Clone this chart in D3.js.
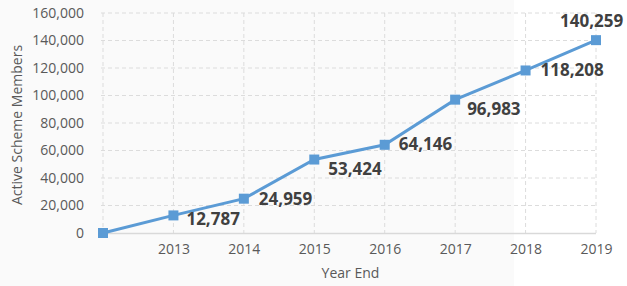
<!DOCTYPE html>
<html>
<head>
<meta charset="utf-8">
<script src="https://cdn.jsdelivr.net/npm/d3@7"></script>
<style>
  body { margin: 0; background: #fff; }
  svg { display: block; }
</style>
</head>
<body>
<div id="chart"></div>
<script>
// Active scheme members by year end
const years = ["", "2013", "2014", "2015", "2016", "2017", "2018", "2019"];
const members = [0, 12787, 24959, 53424, 64146, 96983, 118208, 140259];
const showLabel = [false, true, true, true, true, true, true, true];
const yTicks = [0, 20000, 40000, 60000, 80000, 100000, 120000, 140000, 160000];

// where each data label sits relative to its marker (text start, baseline)
const labelOffsets = [[0, 0], [13, 10], [15, 6], [14, 15], [14, 5], [12, 15], [15, 6], [-36, -13]];

{
    const width = 627, height = 286;
    const x0 = 103, x1 = 596, yBottom = 233, yTop = 13;
    const font = "'Open Sans', sans-serif";
    const textGrey = "#595959";

    const svg = d3.select("#chart")
        .append("svg")
        .attr("width", width)
        .attr("height", height);

    // faint background band seen in the original
    svg.append("rect")
        .attr("x", 0).attr("y", 0)
        .attr("width", 514).attr("height", height)
        .attr("fill", "#fafafa");

    const x = d3.scalePoint()
        .domain(years)
        .range([x0, x1]);

    const y = d3.scaleLinear()
        .domain([0, 160000])
        .range([yBottom, yTop]);

    // horizontal grid
    svg.append("g")
        .selectAll("line")
        .data(yTicks.filter(d => d > 0))
        .join("line")
        .attr("x1", x0 - 2)
        .attr("x2", x1)
        .attr("y1", d => y(d))
        .attr("y2", d => y(d))
        .attr("stroke", "#dcdcdc")
        .attr("stroke-width", 1)
        .attr("stroke-dasharray", "4,3");

    // vertical grid
    svg.append("g")
        .selectAll("line")
        .data(years)
        .join("line")
        .attr("x1", d => x(d))
        .attr("x2", d => x(d))
        .attr("y1", yTop)
        .attr("y2", yBottom)
        .attr("stroke", "#dcdcdc")
        .attr("stroke-width", 1)
        .attr("stroke-dasharray", "4,3");

    // x axis baseline + labels
    const xAxis = svg.append("g")
        .attr("transform", `translate(0, ${yBottom})`)
        .call(d3.axisBottom(x).tickSize(0).tickPadding(11));
    xAxis.select(".domain")
        .attr("d", `M${x0 - 2},0.5H${x1}`)
        .attr("stroke", "#d9d9d9")
        .attr("stroke-width", 1.5);
    xAxis.selectAll("text")
        .attr("font-family", font)
        .attr("font-size", "14px")
        .attr("fill", textGrey);

    // y axis labels
    const yAxis = svg.append("g")
        .attr("transform", `translate(${x0 - 5}, 0)`)
        .call(d3.axisLeft(y).tickValues(yTicks).tickSize(0).tickPadding(14)
            .tickFormat(d3.format(",")));
    yAxis.select(".domain").remove();
    yAxis.selectAll("text")
        .attr("font-family", font)
        .attr("font-size", "14px")
        .attr("fill", textGrey);

    // axis titles
    svg.append("text")
        .attr("transform", `translate(22, ${(yTop + yBottom) / 2 + 2}) rotate(-90)`)
        .attr("text-anchor", "middle")
        .attr("font-family", font)
        .attr("font-size", "14px")
        .attr("fill", textGrey)
        .text("Active Scheme Members");

    svg.append("text")
        .attr("x", (x0 + x1) / 2 + 1)
        .attr("y", 278)
        .attr("text-anchor", "middle")
        .attr("font-family", font)
        .attr("font-size", "14px")
        .attr("fill", textGrey)
        .text("Year End");

    const pts = years.map((d, i) => ({ year: d, value: members[i], i }));

    // line
    svg.append("path")
        .datum(pts)
        .attr("fill", "none")
        .attr("stroke", "#5b9bd5")
        .attr("stroke-width", 3)
        .attr("d", d3.line().x(d => x(d.year)).y(d => y(d.value)));

    // square markers
    svg.append("g")
        .selectAll("rect")
        .data(pts)
        .join("rect")
        .attr("x", d => x(d.year) - 5)
        .attr("y", d => y(d.value) - 5)
        .attr("width", 10)
        .attr("height", 10)
        .attr("fill", "#5b9bd5");

    // data labels
    svg.append("g")
        .selectAll("text")
        .data(pts.filter(d => showLabel[d.i]))
        .join("text")
        .attr("x", d => x(d.year) + labelOffsets[d.i][0])
        .attr("y", d => y(d.value) + labelOffsets[d.i][1])
        .attr("font-family", font)
        .attr("font-size", "17px")
        .attr("font-weight", "bold")
        .attr("fill", "#404040")
        .text(d => d3.format(",")(d.value));
}
</script>
</body>
</html>
